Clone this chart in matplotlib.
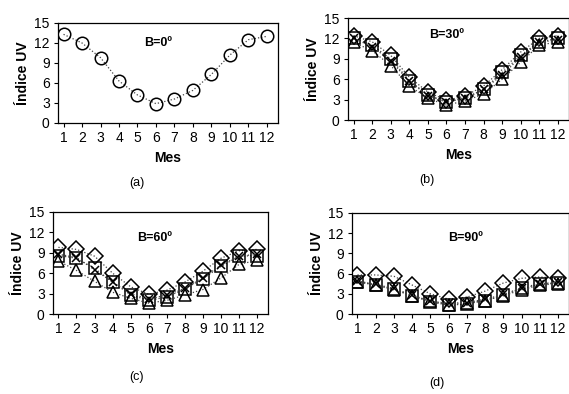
import numpy as np
import matplotlib
matplotlib.use("Agg")
import matplotlib.pyplot as plt

plt.rcParams['font.family'] = ['Liberation Sans', 'DejaVu Sans']

meses = list(range(1, 13))

# B = 0
uv_b0 = [13.3, 12.0, 9.8, 6.3, 4.2, 2.9, 3.6, 4.9, 7.3, 10.2, 12.5, 13.0]

# B = 30
b30_diamond = [12.4, 11.5, 9.5, 6.3, 4.1, 2.9, 3.5, 5.0, 7.4, 10.0, 12.0, 12.4]
b30_square = [12.0, 11.0, 9.0, 5.8, 3.7, 2.7, 3.2, 4.5, 7.0, 9.5, 11.5, 12.0]
b30_triangle = [11.4, 10.2, 8.0, 5.0, 3.2, 2.2, 2.8, 3.8, 6.0, 8.5, 11.0, 11.5]
b30_cross = [12.0, 10.8, 8.7, 5.7, 3.6, 2.6, 3.2, 4.5, 6.6, 9.3, 11.4, 11.8]

# B = 60
b60_diamond = [9.8, 9.5, 8.5, 6.0, 4.0, 2.9, 3.5, 4.7, 6.3, 8.2, 9.3, 9.5]
b60_square = [8.6, 8.2, 6.7, 4.7, 2.8, 2.0, 2.5, 3.7, 5.2, 7.0, 8.5, 8.6]
b60_triangle = [7.8, 6.4, 4.8, 3.2, 2.3, 1.6, 2.0, 2.8, 3.6, 5.3, 7.3, 7.9]
b60_cross = [8.8, 8.3, 6.5, 4.7, 3.0, 2.2, 2.8, 3.8, 5.3, 7.2, 8.5, 8.8]

# B = 90
b90_diamond = [5.8, 5.8, 5.6, 4.3, 3.0, 2.2, 2.5, 3.4, 4.6, 5.3, 5.5, 5.3]
b90_square = [4.8, 4.3, 3.7, 2.7, 1.8, 1.3, 1.5, 2.0, 2.8, 3.8, 4.4, 4.6]
b90_triangle = [4.8, 4.3, 3.6, 2.7, 1.9, 1.4, 1.6, 2.0, 2.7, 3.6, 4.3, 4.5]
b90_cross = [4.9, 4.4, 3.8, 2.8, 1.9, 1.6, 1.7, 2.2, 2.9, 3.9, 4.5, 4.7]

W, H = 569, 394
fig = plt.figure(figsize=(W / 100, H / 100), dpi=100)


def make_axes(left, top, right, bottom):
    return fig.add_axes([left / W, 1 - bottom / H, (right - left) / W, (bottom - top) / H])


def style(ax, title, tx, ty, sub, sx, sy):
    ax.set_xlim(0.7, 12.6)
    ax.set_ylim(0, 15)
    ax.set_xticks(meses)
    ax.set_yticks([0, 3, 6, 9, 12, 15])
    ax.tick_params(labelsize=10, length=3, width=0.8, pad=3)
    for s in ax.spines.values():
        s.set_linewidth(0.9)
    ax.set_xlabel('Mes', fontsize=10, fontweight='bold', labelpad=4)
    ax.set_ylabel('Índice UV', fontsize=10, fontweight='bold', labelpad=3)
    ax.text(tx, ty, title, fontsize=9, fontweight='bold', ha='center', va='center')
    fig.text(sx / W, 1 - sy / H, sub, fontsize=9, ha='center', va='center')


def series(ax, y, marker, ms):
    ax.plot(meses, y, linestyle=':', color='#444444', linewidth=0.9,
            marker=marker, markersize=ms, markerfacecolor='none',
            markeredgecolor='black', markeredgewidth=1.1)


ax_a = make_axes(58, 23, 278, 123)
series(ax_a, uv_b0, 'o', 9)
style(ax_a, 'B=0º', 6.1, 12.0, '(a)', 137, 183)

sets = [
    (make_axes(348, 18, 569, 120), [b30_diamond, b30_square, b30_triangle, b30_cross],
     'B=30º', 6.0, 12.5, '(b)', 427, 180),
    (make_axes(53, 212, 268, 314), [b60_diamond, b60_square, b60_triangle, b60_cross],
     'B=60º', 6.3, 11.2, '(c)', 137, 377),
    (make_axes(352, 213, 569, 314), [b90_diamond, b90_square, b90_triangle, b90_cross],
     'B=90º', 6.9, 11.3, '(d)', 437, 383),
]

for ax, (d, sq, tr, cr), title, tx, ty, sub, sx, sy in sets:
    series(ax, d, 'D', 8)
    series(ax, sq, 's', 8)
    series(ax, tr, '^', 9)
    series(ax, cr, 'x', 6)
    style(ax, title, tx, ty, sub, sx, sy)

fig.savefig('out.png', dpi=100)
